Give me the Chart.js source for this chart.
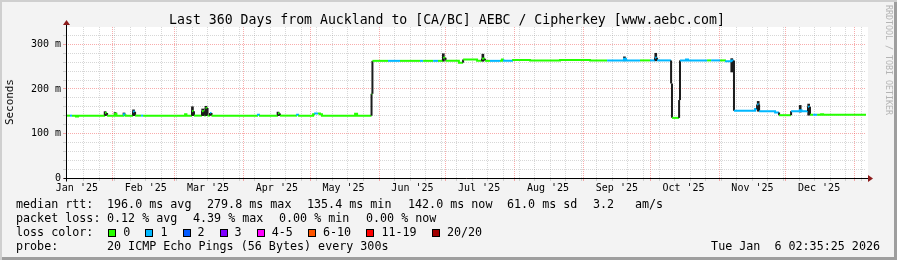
<!DOCTYPE html>
<html>
<head>
<meta charset="utf-8">
<title>Last 360 Days from Auckland to [CA/BC] AEBC / Cipherkey</title>
<script src="https://cdn.jsdelivr.net/npm/chart.js@4.4.1/dist/chart.umd.min.js"></script>
<style>
  html, body { margin: 0; padding: 0; background: #f3f3f3; }
  #graph {
    position: relative; width: 897px; height: 260px; overflow: hidden;
    background: #f3f3f3;
    box-shadow: inset 2px 2px 0 #cfcfcf, inset -3px -3px 0 #9e9e9e;
    font-family: "DejaVu Sans Mono", monospace; color: #000;
  }
  #chart { position: absolute; left: 0; top: 0; }
  .t { position: absolute; white-space: pre; line-height: 14px; }
  #title { left: 0; width: 894px; top: 12px; text-align: center; font-size: 13.2px; line-height: 15px; }
  #ylabel { left: 10px; top: 102px; font-size: 10.9px; transform: translate(-50%, -50%) rotate(-90deg); }
  #credit { left: 884px; top: 5px; writing-mode: vertical-rl; font-size: 8.3px; line-height: 10px; color: #b4b4b4; }
  .leg { font-size: 11.7px; }
  .box { position: absolute; width: 6px; height: 6px; border: 1px solid #000; }
</style>
</head>
<body>
<div id="graph">
  <canvas id="chart" width="897" height="260"></canvas>
  <div class="t" id="title">Last 360 Days from Auckland to [CA/BC] AEBC / Cipherkey [www.aebc.com]</div>
  <div class="t" id="ylabel">Seconds</div>
  <div class="t" id="credit">RRDTOOL / TOBI OETIKER</div>

  <div class="t leg" style="left:16px;top:197px">median rtt:</div>
  <div class="t leg" style="left:107px;top:197px">196.0 ms avg</div>
  <div class="t leg" style="left:207px;top:197px">279.8 ms max</div>
  <div class="t leg" style="left:307px;top:197px">135.4 ms min</div>
  <div class="t leg" style="left:408px;top:197px">142.0 ms now</div>
  <div class="t leg" style="left:507px;top:197px">61.0 ms sd</div>
  <div class="t leg" style="left:593px;top:197px">3.2</div>
  <div class="t leg" style="left:635px;top:197px">am/s</div>

  <div class="t leg" style="left:16px;top:211px">packet loss:</div>
  <div class="t leg" style="left:107px;top:211px">0.12 % avg</div>
  <div class="t leg" style="left:193px;top:211px">4.39 % max</div>
  <div class="t leg" style="left:279px;top:211px">0.00 % min</div>
  <div class="t leg" style="left:366px;top:211px">0.00 % now</div>

  <div class="t leg" style="left:16px;top:225px">loss color:</div>
  <div id="losslegend"></div>

  <div class="t leg" style="left:16px;top:239px">probe:</div>
  <div class="t leg" style="left:107px;top:239px">20 ICMP Echo Pings (56 Bytes) every 300s</div>
  <div class="t leg" style="right:17px;top:239px">Tue Jan  6 02:35:25 2026</div>
</div>

<script>
// time axis in days since 1 Jan 2025 (local time)
const startDay = 10.108;
const endDay = 370.108;

const monthStarts = [0, 31, 59, 90, 120, 151, 181, 212, 243, 273, 304, 334, 365];
const monthLabels = ["Jan '25", "Feb '25", "Mar '25", "Apr '25", "May '25", "Jun '25",
  "Jul '25", "Aug '25", "Sep '25", "Oct '25", "Nov '25", "Dec '25"];
const firstWeekLine = 18;

const yLabelValues = [0, 100, 200, 300];
const yLabels = ['0', '100 m', '200 m', '300 m'];

// median rtt, one step per row: start day, value (ms), loss class
const stepDay = [10.1, 11.9, 12.8, 14.6, 15.5, 27.7, 28.6, 32.2, 32.8, 36.2, 36.9, 40.3, 41.2, 43.9, 44.8,
  63.7, 64.3, 66.8, 67.7, 71.3, 72.4, 72.9, 73.8, 74.9, 75.6, 96.5, 97.4, 105.5, 106.4, 114.1, 115.0,
  121.3, 122.2, 123.5, 124.4, 125.3, 140.2, 141.1, 147.6, 148.0, 155.0, 160.4, 169.4, 170.8, 175.3,
  177.5, 179.8, 180.9, 186.9, 188.8, 195.1, 197.3, 198.7, 200.9, 205.4, 206.3, 207.2, 211.3, 218.9,
  232.4, 245.9, 253.6, 261.2, 262.1, 268.4, 272.9, 275.2, 276.1, 282.4, 282.8, 286.0, 286.4, 289.1,
  290.0, 298.6, 300.4, 304.4, 307.1, 309.4, 310.7, 320.2, 321.1, 322.0, 329.2, 331.0, 336.4, 340.4,
  341.1, 344.0, 344.9, 346.3, 348.1, 349.9, 350.8];
const stepVal = [140, 140, 140, 138, 140, 146, 140, 144, 140, 143, 140, 149, 140, 140, 140,
  143, 140, 150, 140, 150, 140, 157, 140, 146, 140, 142, 140, 145, 140, 142, 140,
  143, 145, 145, 143, 140, 144, 140, 189, 263, 263, 263, 263, 263, 263,
  263, 270, 263, 259, 266, 263, 268, 263, 263, 263, 266, 263, 265, 264,
  265, 264, 264, 268, 264, 264, 264, 270, 264, 212, 135, 175, 264, 266,
  264, 264, 264, 264, 262, 264, 151, 155, 165, 150, 147, 141, 150, 152,
  150, 160, 142, 142, 142, 143, 142];
const stepLoss = [0, 1, 0, 0, 0, 0, 0, 0, 0, 1, 0, 1, 0, 1, 0,
  0, 0, 0, 0, 0, 0, 0, 0, 1, 0, 1, 0, 0, 0, 1, 0,
  0, 1, 0, 0, 0, 0, 0, 0, 0, 1, 0, 1, 0, 1,
  0, 0, 0, 0, 0, 0, 0, 0, 1, 0, 0, 1, 0, 0,
  0, 0, 1, 1, 1, 0, 1, 1, 1, 1, 0, 1, 1, 1,
  1, 0, 1, 0, 1, 1, 1, 1, 1, 1, 1, 0, 1, 1,
  1, 1, 0, 1, 0, 0, 0];

// smoke (spread of the 20 pings) where it stands out
const smokeDay = [27.7, 32.2, 36.2, 40.5, 67.0, 71.6, 73.1, 105.5, 179.9, 197.7, 261.4, 275.5, 309.7, 321.6, 340.5, 344.3];
const smokeLow = [140, 140, 140, 140, 140, 140, 140, 140, 262, 262, 263, 263, 238, 150, 148, 141];
const smokeHigh = [149, 147, 146, 153, 160, 155, 161, 148, 279, 278, 272, 280, 268, 172, 163, 166];

const lossLabels = ['0', '1', '2', '3', '4-5', '6-10', '11-19', '20/20'];
const lossColors = ['#26ff00', '#00b8ff', '#0059ff', '#7e00ff', '#ff00ff', '#ff5500', '#ff0000', '#a10000'];
const smokeColor = '#1c1c1c';
const majorGrid = 'rgba(240, 70, 70, 0.45)';
const minorGrid = 'rgba(130, 130, 130, 0.32)';
const arrowColor = '#8c1c1c';

// loss colour legend
const lossLegend = document.getElementById('losslegend');
let lx = 108.3;
lossLabels.forEach((label, i) => {
  const box = document.createElement('div');
  box.className = 'box';
  box.style.left = lx + 'px';
  box.style.top = '228.5px';
  box.style.background = lossColors[i];
  lossLegend.appendChild(box);
  const txt = document.createElement('div');
  txt.className = 't leg';
  txt.style.left = (lx + 15) + 'px';
  txt.style.top = '225px';
  txt.textContent = label;
  lossLegend.appendChild(txt);
  lx += 15 + label.length * 7.1 + 15;
});

// median as horizontal steps joined by vertical connectors
const points = [];
const segColor = [];
for (let i = 0; i < stepDay.length; i++) {
  const last = i === stepDay.length - 1;
  points.push({ x: stepDay[i], y: stepVal[i] });
  segColor.push(lossColors[stepLoss[i]]);
  points.push({ x: last ? endDay : stepDay[i + 1], y: stepVal[i] });
  if (!last) {
    const jump = Math.abs(stepVal[i + 1] - stepVal[i]);
    segColor.push(jump >= 5 ? smokeColor : lossColors[stepLoss[i + 1]]);
  }
}

const smokeData = smokeDay.map((d, i) => ({ x: d, y: [smokeLow[i], smokeHigh[i]] }));

const xTicks = [];
monthStarts.forEach((d) => { if (d > startDay && d < endDay) xTicks.push({ value: d, kind: 'major' }); });
for (let d = firstWeekLine; d < endDay; d += 7) {
  if (!monthStarts.includes(d)) xTicks.push({ value: d, kind: 'minor' });
}
monthLabels.forEach((label, i) => xTicks.push({ value: monthStarts[i] + 15, kind: 'label', text: label }));

const yTicks = [];
for (let v = 0; v <= 320; v += 20) {
  const k = yLabelValues.indexOf(v);
  yTicks.push({ value: v, kind: k >= 0 ? 'major' : 'minor', text: k >= 0 ? yLabels[k] : '' });
}

function gridColor(c) {
  if (!c.tick) return 'rgba(0,0,0,0)';
  if (c.tick.kind === 'major') return majorGrid;
  if (c.tick.kind === 'minor') return minorGrid;
  return 'rgba(0,0,0,0)';
}

const canvasBg = {
  id: 'canvasBg',
  beforeDraw(chart) {
    const { ctx, chartArea: a } = chart;
    ctx.save();
    ctx.fillStyle = '#ffffff';
    ctx.fillRect(a.left, a.top, a.right - a.left + 2, a.bottom - a.top);
    ctx.restore();
  },
};

const axes = {
  id: 'axes',
  afterDraw(chart) {
    const { ctx, chartArea: a } = chart;
    const x0 = Math.round(a.left) + 0.5;
    const y0 = Math.round(a.bottom) + 0.5;
    ctx.save();
    ctx.strokeStyle = '#000';
    ctx.lineWidth = 1;
    ctx.beginPath();
    ctx.moveTo(x0, y0 + 3);
    ctx.lineTo(x0, a.top - 3);
    ctx.moveTo(x0 - 3, y0);
    ctx.lineTo(a.right + 3, y0);
    ctx.stroke();
    ctx.fillStyle = arrowColor;
    ctx.beginPath();
    ctx.moveTo(x0 - 3.5, a.top - 2);
    ctx.lineTo(x0 + 3.5, a.top - 2);
    ctx.lineTo(x0, a.top - 7);
    ctx.closePath();
    ctx.fill();
    ctx.beginPath();
    ctx.moveTo(a.right + 2, y0 - 3.5);
    ctx.lineTo(a.right + 2, y0 + 3.5);
    ctx.lineTo(a.right + 7, y0);
    ctx.closePath();
    ctx.fill();
    ctx.restore();
  },
};

const tickFont = { family: '"DejaVu Sans Mono", monospace', size: 10 };

new Chart(document.getElementById('chart'), {
  type: 'line',
  data: {
    datasets: [
      {
        type: 'line',
        data: points,
        borderColor: lossColors[0],
        borderWidth: 2,
        pointRadius: 0,
        tension: 0,
        borderCapStyle: 'butt',
        segment: { borderColor: (c) => segColor[c.p0DataIndex] },
        order: 1,
      },
      {
        type: 'bar',
        data: smokeData,
        backgroundColor: smokeColor,
        barThickness: 2,
        grouped: false,
        order: 2,
      },
    ],
  },
  options: {
    responsive: false,
    animation: false,
    events: [],
    layout: { padding: { left: 0, top: 27, right: 31, bottom: 62 } },
    plugins: { legend: { display: false }, tooltip: { enabled: false } },
    scales: {
      x: {
        type: 'linear',
        min: startDay,
        max: endDay,
        offset: false,
        afterBuildTicks: (s) => { s.ticks = xTicks; },
        afterFit: (s) => { s.height = 20; },
        grid: {
          offset: false,
          color: gridColor,
          tickColor: gridColor,
          tickLength: 3,
          borderDash: [1, 1],
          tickBorderDash: [],
        },
        border: { display: false, dash: [1, 1] },
        ticks: {
          autoSkip: false,
          maxRotation: 0,
          minRotation: 0,
          padding: 1,
          color: '#000',
          font: tickFont,
          callback: (v, i, ticks) => ticks[i].text || '',
        },
      },
      y: {
        min: 0,
        max: 339,
        afterBuildTicks: (s) => { s.ticks = yTicks; },
        afterFit: (s) => { s.width = 66; },
        grid: {
          color: gridColor,
          tickColor: gridColor,
          tickLength: 3,
          borderDash: [1, 1],
          tickBorderDash: [],
        },
        border: { display: false, dash: [1, 1] },
        ticks: {
          autoSkip: false,
          padding: 2,
          color: '#000',
          font: tickFont,
          callback: (v, i, ticks) => ticks[i].text || '',
        },
      },
    },
  },
  plugins: [canvasBg, axes],
});
</script>
</body>
</html>
